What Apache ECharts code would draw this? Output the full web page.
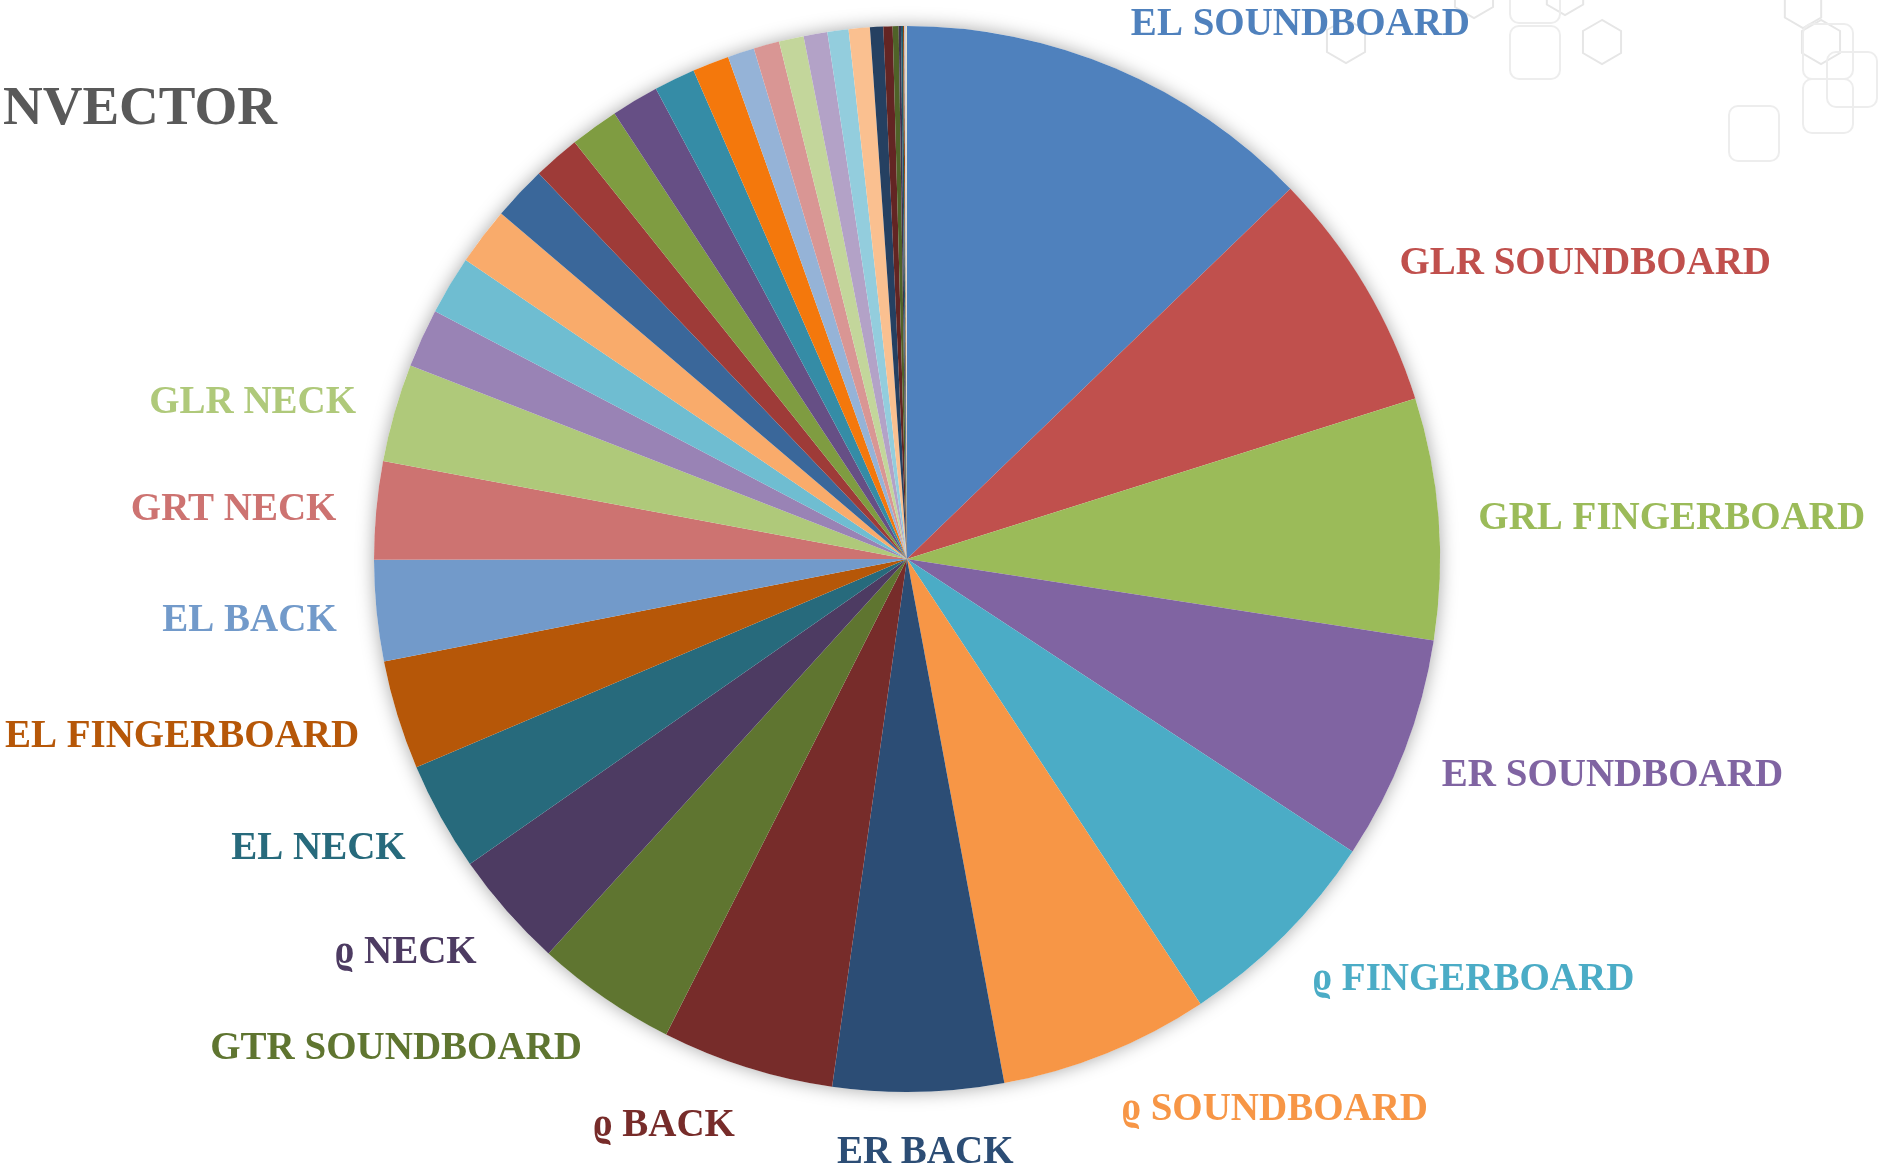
<!DOCTYPE html>
<html>
<head>
<meta charset="utf-8">
<title>Convector</title>
<script src="https://cdn.jsdelivr.net/npm/echarts@6/dist/echarts.min.js"></script>
<style>
  html, body { margin: 0; padding: 0; background: #ffffff; }
  #chart { width: 1878px; height: 1164px; }
</style>
</head>
<body>
<div id="chart"></div>
<script>
// Slice names, clockwise from 12 o'clock (only the first 15 carry a label)
const categories = [
  'EL SOUNDBOARD', 'GLR SOUNDBOARD', 'GRL FINGERBOARD', 'ER SOUNDBOARD',
  'ϱ FINGERBOARD', 'ϱ SOUNDBOARD', 'ER BACK', 'ϱ BACK', 'GTR SOUNDBOARD',
  'ϱ NECK', 'EL NECK', 'EL FINGERBOARD', 'EL BACK', 'GRT NECK', 'GLR NECK',
  '', '', '', '', '', '', '', '', '', '', '', '', '', '', '', '', '', '', '', '', '', '', '', ''
];

// Share of each slice, in percent
const shares = [
  12.78, 7.36, 7.31, 6.81, 6.47, 6.36, 5.17, 5.22, 4.28,
  3.56, 3.31, 3.31, 3.06, 2.97, 2.97,
  1.78, 1.78, 1.75, 1.64, 1.42, 1.47, 1.44, 1.25, 1.11,
  0.81, 0.78, 0.75, 0.72, 0.64, 0.64,
  0.40, 0.28, 0.18, 0.07, 0.06, 0.04, 0.03, 0.03, 0.02
];

// Office-style palette, repeated in darker / lighter tints
const sliceColors = [
  '#4F81BD', '#C0504D', '#9BBB59', '#8064A2', '#4BACC6', '#F79646',
  '#2C4D75', '#772C2A', '#5F7530', '#4D3B62', '#276A7C', '#B65708',
  '#729ACA', '#CD7371', '#AFC97A', '#9983B5', '#6FBDD1', '#F9AB6B',
  '#3A679A', '#9E3B38', '#7F9C41', '#664F85', '#358CA6', '#F4780C',
  '#95B3D7', '#D99694', '#C3D69B', '#B3A2C7', '#93CDDD', '#FAC090',
  '#254061', '#632523', '#4F6228', '#3F3151', '#215968', '#984807',
  '#B9CDE5', '#E6B9B8', '#D7E4BD'
];

const titleText = 'NVECTOR';
const labelledCount = 15;
const centredLabel = categories.indexOf('ER BACK');

const serif = "'Liberation Serif', 'DejaVu Serif', serif";
const PIE_CENTER = [907, 559];
const PIE_RADIUS = 533;

// Mid angle of every slice, measured clockwise from 12 o'clock
const total = shares.reduce((a, b) => a + b, 0);
const midAngles = [];
shares.reduce((acc, v) => {
  midAngles.push((acc + v / 2) / total * 2 * Math.PI);
  return acc + v;
}, 0);

const pieData = shares.map((v, i) => ({
  name: categories[i],
  value: v,
  itemStyle: { color: sliceColors[i % sliceColors.length] },
  label: {
    show: i < labelledCount,
    color: sliceColors[i % sliceColors.length]
  }
}));

// Faint honeycomb decoration in the top-right corner
function hexagon(cx, cy, r) {
  const pts = [];
  for (let k = 0; k < 6; k++) {
    const a = Math.PI / 2 + k * Math.PI / 3;
    pts.push([cx + r * Math.cos(a), cy - r * Math.sin(a)]);
  }
  return {
    type: 'polygon', silent: true, z: 0,
    shape: { points: pts },
    style: { fill: 'none', stroke: '#E6E6E6', lineWidth: 2 }
  };
}
function roundSquare(x, y, w, h) {
  return {
    type: 'rect', silent: true, z: 0,
    shape: { x: x, y: y, width: w, height: h, r: 9 },
    style: { fill: 'none', stroke: '#EDEDED', lineWidth: 2 }
  };
}
const decorations = [
  hexagon(1346, 41, 22), hexagon(1474, -4, 22), hexagon(1565, -6, 21),
  hexagon(1602, 42, 22), hexagon(1803, 7, 21), hexagon(1821, 42, 22),
  roundSquare(1510, 26, 50, 53), roundSquare(1510, -32, 50, 55),
  roundSquare(1803, 24, 50, 55), roundSquare(1827, 52, 50, 55),
  roundSquare(1803, 79, 50, 54), roundSquare(1729, 106, 50, 55)
];

const chart = echarts.init(document.getElementById('chart'), null, { renderer: 'canvas' });

chart.setOption({
  backgroundColor: '#ffffff',
  animation: false,
  title: {
    text: titleText,
    left: 3,
    top: 82,
    padding: 0,
    textStyle: { fontFamily: serif, fontWeight: 'bold', fontSize: 55, color: '#595959' }
  },
  graphic: decorations,
  series: [
    {
      // soft shadow behind the whole disc
      type: 'pie',
      silent: true,
      z: 1,
      center: PIE_CENTER,
      radius: PIE_RADIUS,
      label: { show: false },
      labelLine: { show: false },
      itemStyle: {
        color: '#ffffff',
        shadowBlur: 18,
        shadowColor: 'rgba(0,0,0,0.35)'
      },
      data: [{ value: 1 }]
    },
    {
      type: 'pie',
      z: 2,
      center: PIE_CENTER,
      radius: PIE_RADIUS,
      startAngle: 90,
      clockwise: true,
      avoidLabelOverlap: false,
      itemStyle: { borderWidth: 0 },
      label: {
        position: 'outside',
        fontFamily: serif,
        fontWeight: 'bold',
        fontSize: 39,
        distanceToLabelLine: 0
      },
      labelLine: { show: false, length: 40, length2: 0 },
      // keep the text box clear of the rim: lower-half labels hang below their anchor
      labelLayout: function (p) {
        const c = -Math.cos(midAngles[p.dataIndex]);
        const dy = 5 + (c > 0 ? 16 : 13) * c;
        const out = { dy: dy };
        if (p.dataIndex === centredLabel) {
          out.align = 'center';
          out.dx = 6;
        }
        return out;
      },
      emphasis: { disabled: true },
      data: pieData
    }
  ]
});
</script>
</body>
</html>
